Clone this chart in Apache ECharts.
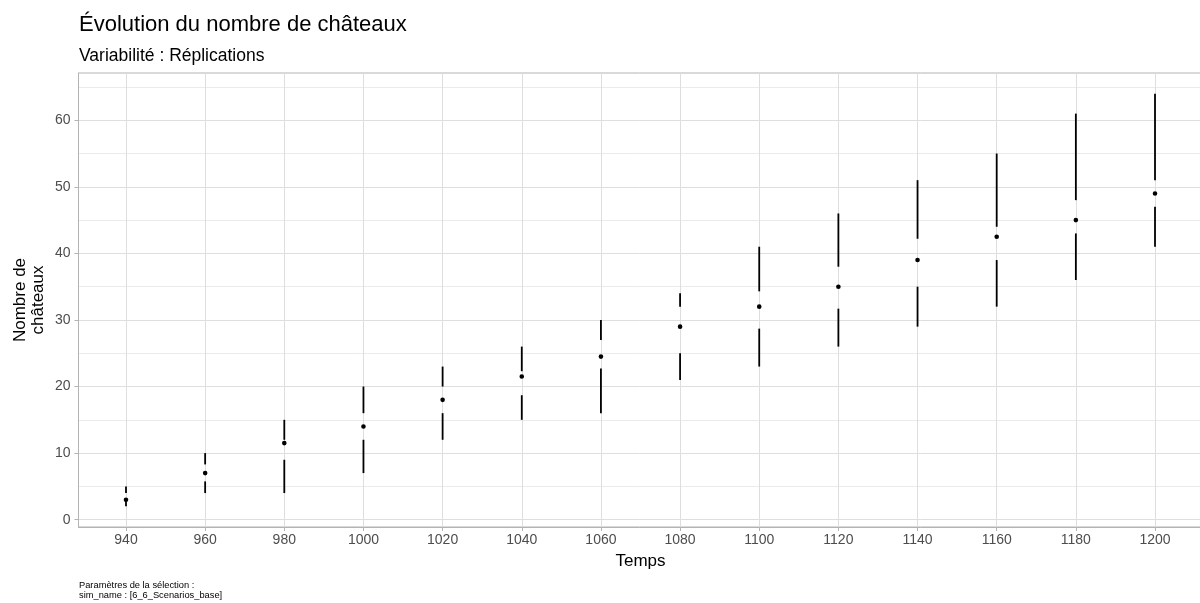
<!DOCTYPE html>
<html>
<head>
<meta charset="utf-8">
<script src="https://cdn.jsdelivr.net/npm/echarts@6/dist/echarts.min.js"></script>
<style>
html,body{margin:0;padding:0;background:#fff;}
#chart{width:1200px;height:603px;}
</style>
</head>
<body>
<div id="chart"></div>
<script>
// Data
const times = [940, 960, 980, 1000, 1020, 1040, 1060, 1080, 1100, 1120, 1140, 1160, 1180, 1200];
const minV  = [2, 4, 4, 7, 12, 15, 16, 21, 23, 26, 29, 32, 36, 41];
const q1V   = [3, 5.75, 9, 12, 16, 18.7, 22.7, 25, 28.7, 31.7, 35, 39, 43, 47];
const medV  = [3, 7, 11.5, 14, 18, 21.5, 24.5, 29, 32, 35, 39, 42.5, 45, 49];
const q3V   = [4, 8.3, 12, 16, 20, 22.3, 27, 32, 34.3, 38, 42.2, 44, 48, 51];
const maxV  = [5, 10, 15, 20, 23, 26, 30, 34, 41, 46, 51, 55, 61, 64];
const yMajor = [0, 10, 20, 30, 40, 50, 60];
const yMinor = [5, 15, 25, 35, 45, 55, 65];

const FONT = '"Liberation Sans", Arial, Helvetica, sans-serif';
const data = times.map((t, i) => [t, minV[i], q1V[i], medV[i], q3V[i], maxV[i]]);

const chart = echarts.init(document.getElementById('chart'));
chart.setOption({
  backgroundColor: '#ffffff',
  animation: false,
  title: [
    { text: 'Évolution du nombre de châteaux', left: 74, top: 9, padding: 5,
      textStyle: { fontFamily: FONT, fontSize: 22, fontWeight: 'normal', color: '#000' } },
    { text: 'Variabilité : Réplications', left: 74, top: 42, padding: 5,
      textStyle: { fontFamily: FONT, fontSize: 17.5, fontWeight: 'normal', color: '#000' } },
    { text: 'Paramètres de la sélection :\nsim_name : [6_6_Scenarios_base]', left: 74, top: 575, padding: 5,
      textStyle: { fontFamily: FONT, fontSize: 9.3, lineHeight: 10, fontWeight: 'normal', color: '#000' } }
  ],
  grid: { left: 78.5, top: 73, width: 1124, height: 454, show: true, outerBoundsMode: 'none', containLabel: false,
          borderColor: '#B3B3B3', borderWidth: 1, backgroundColor: 'transparent' },
  xAxis: {
    type: 'value', min: 928, max: 1212,
    name: 'Temps', nameLocation: 'middle', nameGap: 26, nameMoveOverlap: false,
    nameTextStyle: { fontFamily: FONT, fontSize: 17, color: '#000' },
    axisLine: { show: true, onZero: false, lineStyle: { color: '#B3B3B3', width: 1 } },
    axisTick: { show: true, length: 4, customValues: times, lineStyle: { color: '#B3B3B3' } },
    axisLabel: { customValues: times, margin: 6, fontFamily: FONT, fontSize: 14, color: '#4D4D4D',
                 formatter: function (v) { return String(v); } },
    splitLine: { show: true, lineStyle: { color: '#DEDEDE', width: 1 } }
  },
  yAxis: [
    {
      type: 'value', min: -1.1, max: 67.1,
      name: 'Nombre de\nchâteaux', nameLocation: 'middle', nameGap: 31, nameRotate: 90, nameMoveOverlap: false,
      nameTextStyle: { fontFamily: FONT, fontSize: 17, lineHeight: 18, color: '#000' },
      axisLine: { show: true, lineStyle: { color: '#B3B3B3', width: 1 } },
      axisTick: { show: true, length: 4, customValues: yMajor, lineStyle: { color: '#B3B3B3' } },
      axisLabel: { customValues: yMajor, margin: 8, fontFamily: FONT, fontSize: 14, color: '#4D4D4D',
                   formatter: function (v) { return String(v); } },
      splitLine: { show: true, lineStyle: { color: '#DEDEDE', width: 1 } },
      z: 1
    },
    {
      type: 'value', min: -1.1, max: 67.1, position: 'right',
      axisLine: { show: false },
      axisTick: { show: false, customValues: yMinor },
      axisLabel: { show: false, customValues: yMinor },
      splitLine: { show: true, lineStyle: { color: '#EBEBEB', width: 1 } },
      z: 0
    }
  ],
  series: [{
    type: 'custom',
    xAxisIndex: 0, yAxisIndex: 0,
    data: data,
    encode: { x: 0, y: [1, 2, 3, 4, 5] },
    z: 10,
    renderItem: function (params, api) {
      const x = api.value(0);
      const pMin = api.coord([x, api.value(1)]);
      const pQ1 = api.coord([x, api.value(2)]);
      const pMed = api.coord([x, api.value(3)]);
      const pQ3 = api.coord([x, api.value(4)]);
      const pMax = api.coord([x, api.value(5)]);
      const st = { stroke: '#000', lineWidth: 1.8 };
      return {
        type: 'group',
        children: [
          { type: 'line', shape: { x1: pMin[0], y1: pMin[1], x2: pQ1[0], y2: pQ1[1] }, style: st },
          { type: 'line', shape: { x1: pQ3[0], y1: pQ3[1], x2: pMax[0], y2: pMax[1] }, style: st },
          { type: 'circle', shape: { cx: pMed[0], cy: pMed[1], r: 2.3 }, style: { fill: '#000' } }
        ]
      };
    }
  }]
});
</script>
</body>
</html>
